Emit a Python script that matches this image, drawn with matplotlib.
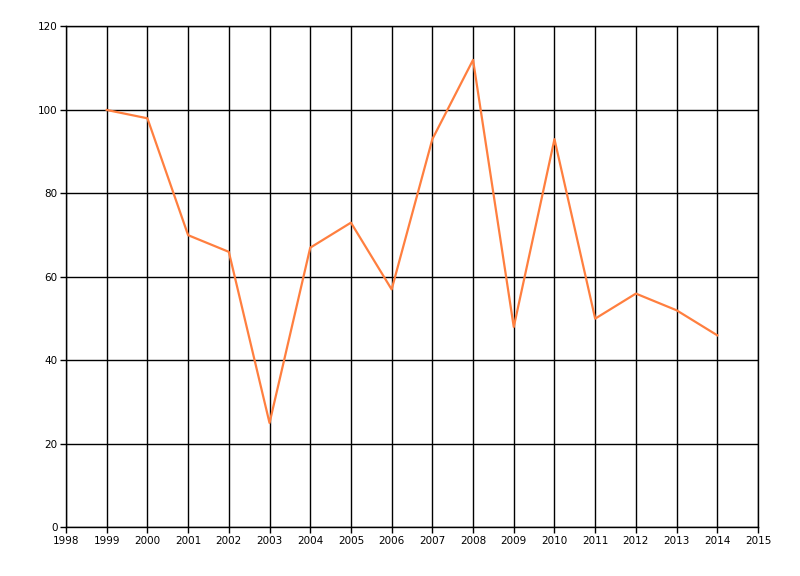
import matplotlib
matplotlib.use("Agg")
import matplotlib.pyplot as plt

years = [1999, 2000, 2001, 2002, 2003, 2004, 2005, 2006, 2007,
         2008, 2009, 2010, 2011, 2012, 2013, 2014]
values = [100, 98, 70, 66, 25, 67, 73, 57, 93, 112, 48, 93, 50, 56, 52, 46]

x_ticks = list(range(1998, 2016))
y_ticks = [0, 20, 40, 60, 80, 100, 120]

fig = plt.figure(figsize=(8, 5.76), dpi=100)
ax = fig.add_axes([66 / 800, (576 - 527.3) / 576, 692 / 800, 500.8 / 576])

ax.plot(years, values, color="#FF7F3F", linewidth=1.6, zorder=3)

ax.set_xlim(1998, 2015)
ax.set_ylim(0, 120)
ax.set_xticks(x_ticks)
ax.set_yticks(y_ticks)
ax.set_xticklabels([str(y) for y in x_ticks])
ax.grid(True, color="black", linewidth=1)
ax.set_axisbelow(True)
for s in ax.spines.values():
    s.set_color("black")
    s.set_linewidth(1)
ax.tick_params(axis="both", direction="out", length=4, width=1,
               color="black", labelsize=7.5, pad=2)

fig.savefig("out.png", dpi=100)
